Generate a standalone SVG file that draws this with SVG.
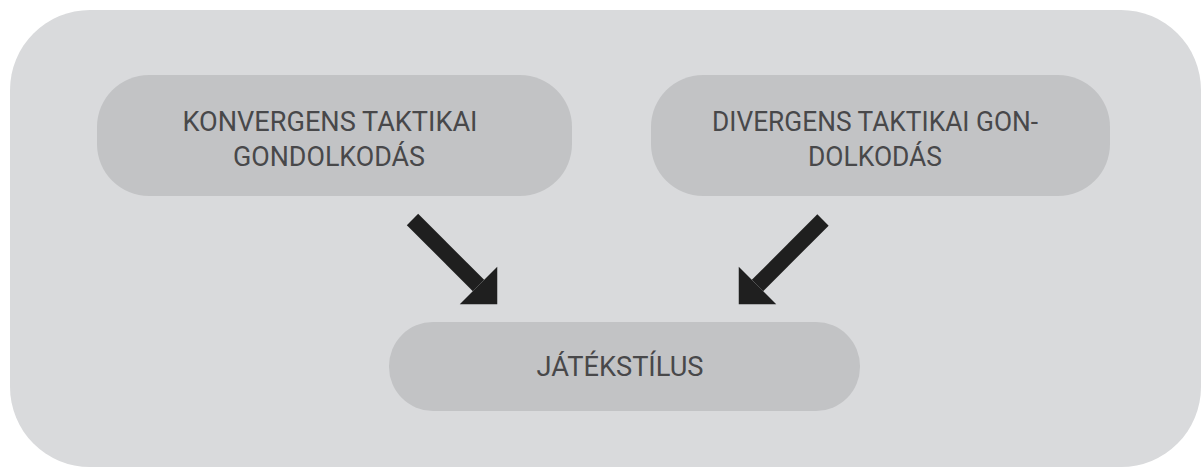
<svg xmlns="http://www.w3.org/2000/svg" width="1201" height="467" viewBox="0 0 1201 467">
  <style>
    .panel { fill: #d9dadc; }
    .node rect { fill: #c2c3c5; }
    .label { font-family: Roboto, "Liberation Sans", sans-serif; font-size: 28px; font-weight: 400; fill: #48484a; text-anchor: middle; }
    .arrow { stroke: #1f1f1f; stroke-width: 16; stroke-linecap: butt; fill: none; }
  </style>
  <defs>
    <marker id="head" markerUnits="userSpaceOnUse" viewBox="0 -27 27 54" refX="0" refY="0" markerWidth="27" markerHeight="54" orient="auto">
      <path d="M0,-26.5 L26.5,0 L0,26.5 Z" fill="#1f1f1f"/>
    </marker>
  </defs>

  <rect class="panel" x="10" y="10" width="1191" height="457" rx="80" ry="80"/>

  <g id="node-konvergens" class="node">
    <rect x="97" y="75" width="475" height="121" rx="52" ry="52"/>
    <text class="label" x="330" y="131" textLength="295" lengthAdjust="spacingAndGlyphs">KONVERGENS TAKTIKAI</text>
    <text class="label" x="329" y="166" textLength="192" lengthAdjust="spacingAndGlyphs">GONDOLKODÁS</text>
  </g>

  <g id="node-divergens" class="node">
    <rect x="651" y="75" width="459" height="121" rx="52" ry="52"/>
    <text class="label" x="875" y="131" textLength="326" lengthAdjust="spacingAndGlyphs">DIVERGENS TAKTIKAI GON-</text>
    <text class="label" x="875" y="166" textLength="134" lengthAdjust="spacingAndGlyphs">DOLKODÁS</text>
  </g>

  <g id="node-jatekstilus" class="node">
    <rect x="389" y="322" width="471" height="89" rx="44" ry="44"/>
    <text class="label" x="620" y="376" textLength="167" lengthAdjust="spacingAndGlyphs">JÁTÉKSTÍLUS</text>
  </g>

  <g id="connectors">
    <line class="arrow" x1="412.5" y1="219.5" x2="478.5" y2="285.5" marker-end="url(#head)"/>
    <line class="arrow" x1="823" y1="220" x2="757.5" y2="285.5" marker-end="url(#head)"/>
  </g>
</svg>
